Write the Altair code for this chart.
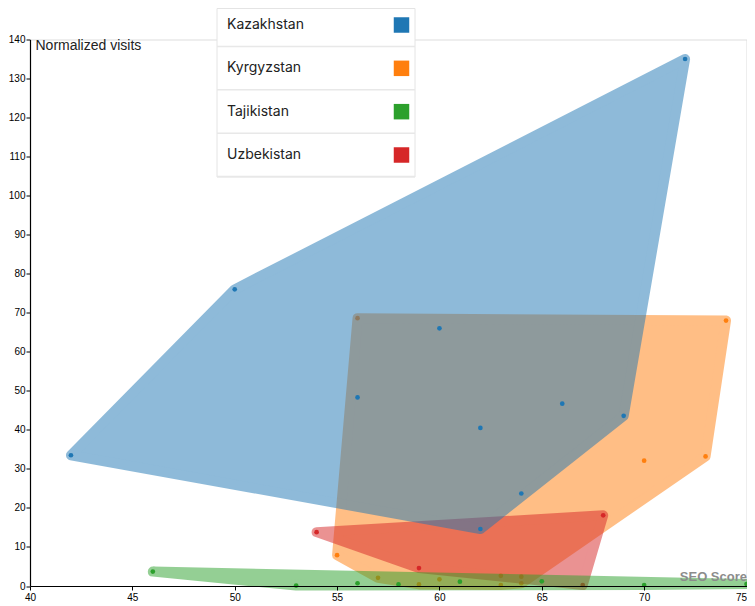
import altair as alt
import pandas as pd

countries = ["Kazakhstan", "Kyrgyzstan", "Tajikistan", "Uzbekistan"]
colors = ["#1f77b4", "#ff7f0e", "#2ca02c", "#d62728"]
draw_order = ["Kyrgyzstan", "Uzbekistan", "Kazakhstan", "Tajikistan"]

kaz_x = [42, 50, 72, 56, 60, 62, 66, 69, 64, 62]
kaz_y = [33.5, 76, 135, 48.3, 66, 40.5, 46.7, 43.6, 23.7, 14.6]
kyr_x = [56, 74, 73, 70, 55, 57, 59, 60, 63, 63, 64, 64]
kyr_y = [68.6, 68, 33.2, 32.1, 7.9, 2.1, 0.4, 1.7, 2.6, 0.25, 2.4, 0.7]
taj_x = [46, 53, 56, 58, 61, 65, 70, 75]
taj_y = [3.7, 0.1, 0.7, 0.4, 1.1, 1.2, 0.25, 0.5]
uzb_x = [54, 68, 59, 67]
uzb_y = [13.8, 18.1, 4.6, 0.25]

x_ticks = [40, 45, 50, 55, 60, 65, 70, 75]
y_ticks = [0, 10, 20, 30, 40, 50, 60, 70, 80, 90, 100, 110, 120, 130, 140]

series = {
    "Kazakhstan": (kaz_x, kaz_y),
    "Kyrgyzstan": (kyr_x, kyr_y),
    "Tajikistan": (taj_x, taj_y),
    "Uzbekistan": (uzb_x, uzb_y),
}


def hull(xs, ys):
    pts = sorted(set(zip(xs, ys)))

    def cross(o, a, b):
        return (a[0] - o[0]) * (b[1] - o[1]) - (a[1] - o[1]) * (b[0] - o[0])

    lower = []
    for p in pts:
        while len(lower) >= 2 and cross(lower[-2], lower[-1], p) <= 0:
            lower.pop()
        lower.append(p)
    upper = []
    for p in reversed(pts):
        while len(upper) >= 2 and cross(upper[-2], upper[-1], p) <= 0:
            upper.pop()
        upper.append(p)
    return lower[:-1] + upper[:-1]


pt_rows, hull_rows = [], []
for c, (xs, ys) in series.items():
    for x, y in zip(xs, ys):
        pt_rows.append({"country": c, "x": x, "y": y})
    for i, (x, y) in enumerate(hull(xs, ys)):
        hull_rows.append({"country": c, "x": x, "y": y, "ord": i})
pts_df = pd.DataFrame(pt_rows)
hull_df = pd.DataFrame(hull_rows)

W, H = 716.5, 546.5
lab_font = "Liberation Sans"

xenc = alt.X(
    "x:Q",
    scale=alt.Scale(domain=[40, 75], nice=False, zero=False),
    axis=alt.Axis(
        values=x_ticks, title="SEO Score", titleX=W, titleY=-6,
        titleAlign="right", titleBaseline="alphabetic", titleFontWeight="bold",
        titleColor="#8c8c8c", titleFontSize=13, titleFont=lab_font,
        labelFont=lab_font, labelFontSize=10, labelColor="#000",
        labelAlign={"condition": {"test": "datum.value === 75", "value": "right"},
                    "value": "center"},
        labelFlush=False, labelPadding=2, tickSize=4, tickColor="#000",
        domainColor="#000", domainWidth=1.2, grid=False, zindex=1,
    ),
)
yenc = alt.Y(
    "y:Q",
    scale=alt.Scale(domain=[0, 140], nice=False),
    axis=alt.Axis(
        values=y_ticks, title="Normalized visits", titleAngle=0, titleX=5,
        titleY=-1, titleAlign="left", titleBaseline="top",
        titleFontWeight="normal", titleColor="#222", titleFontSize=14,
        titleFont=lab_font, labelFont=lab_font, labelFontSize=10,
        labelColor="#000", labelFlush=False, labelPadding=1, tickSize=4,
        tickColor="#000", domainColor="#000", domainWidth=1.2, grid=False,
    ),
)
cscale = alt.Scale(domain=countries, range=colors)

layers = []
for c in draw_order:
    h = (
        alt.Chart(hull_df)
        .transform_filter(alt.datum.country == c)
        .mark_line(interpolate="linear-closed", strokeWidth=10,
                   strokeJoin="round", opacity=0.5)
        .encode(
            x=xenc, y=yenc, order="ord:Q",
            fill=alt.Fill("country:N", scale=cscale, legend=None),
            stroke=alt.Stroke("country:N", scale=cscale, legend=None),
        )
    )
    p = (
        alt.Chart(pts_df)
        .transform_filter(alt.datum.country == c)
        .mark_circle(size=22, opacity=1)
        .encode(x=xenc, y=yenc,
                color=alt.Color("country:N", scale=cscale, legend=None))
    )
    layers += [h, p]

plot = alt.layer(*layers)

legend_df = pd.DataFrame({"country": countries})
ly = alt.Y("country:N", scale=alt.Scale(type="point", domain=countries,
                                        range=[-14.5, 115.5], padding=0),
           axis=None)
box = alt.Chart(pd.DataFrame({"k": [0]})).mark_rect(
    fill="white", stroke="#e4e4e4", strokeWidth=1
).encode(x=alt.value(187), x2=alt.value(385), y=alt.value(-31), y2=alt.value(137.5))
seps = alt.Chart(legend_df).mark_rule(color="#e8e8e8", strokeWidth=1.5, yOffset=21.5).encode(
    y=ly, x=alt.value(187), x2=alt.value(385))
squares = alt.Chart(legend_df).mark_square(size=240, opacity=1).encode(
    y=ly, x=alt.value(371.5),
    color=alt.Color("country:N", scale=cscale, legend=None))
texts = alt.Chart(legend_df).mark_text(
    align="left", baseline="middle", font="Inter", fontSize=14, color="#222"
).encode(y=ly, x=alt.value(197), text="country:N")
legend = alt.layer(box, seps, squares, texts)

chart = (
    alt.layer(plot, legend)
    .resolve_scale(y="independent")
    .properties(width=W, height=H, autosize="none",
                padding={"left": 22, "top": 31.5, "right": 0.5, "bottom": 16})
    .configure_view(stroke=None)
    .configure(background="white")
)

chart.save("out.html", embed_options={"renderer": "svg", "actions": False})
